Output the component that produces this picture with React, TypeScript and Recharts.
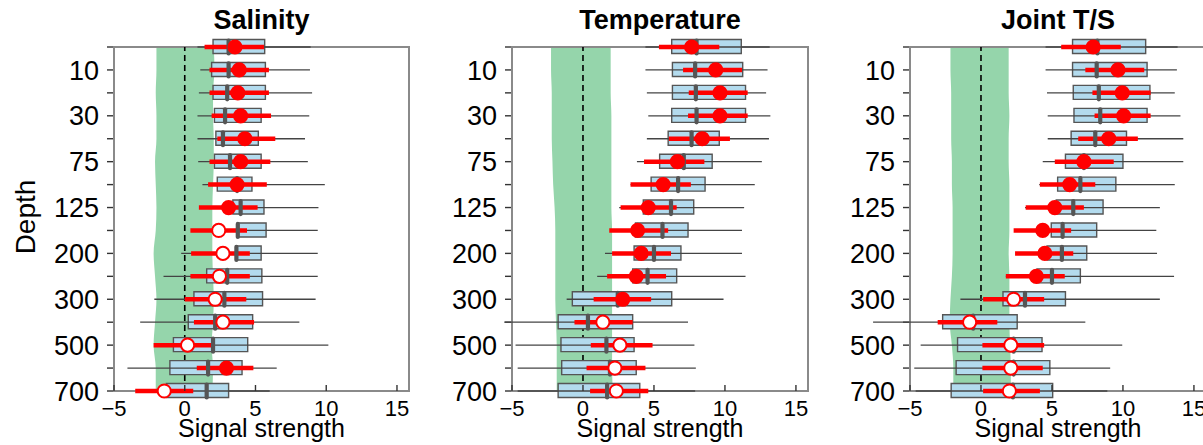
import React from 'react';
import { ComposedChart, Bar, Scatter, Area, XAxis, YAxis, ReferenceLine, ReferenceArea, ErrorBar } from 'recharts';

// ---- categories ----
const depths = [5, 10, 20, 30, 50, 75, 100, 125, 150, 200, 250, 300, 400, 500, 600, 700];
const labelledDepths = [10, 30, 75, 125, 200, 300, 500, 700];
const xTicks = [-5, 0, 5, 10, 15];

// ---- Salinity ----
const salWLo = [0.9, 1.1, 1.0, 0.9, 0.9, 0.95, 1.25, 1.2, 1.0, -0.25, -1.5, -2.15, -3.15, -2.0, -4.05, -3.0];
const salQ1 = [2.0, 1.9, 2.0, 2.1, 2.2, 2.1, 2.3, 3.4, 3.75, 3.6, 1.55, 0.65, 0.25, -0.8, -1.05, -1.3];
const salMed = [3.1, 3.1, 3.0, 2.85, 2.7, 3.2, 3.7, 3.95, 3.75, 3.65, 3.0, 2.8, 2.15, 2.0, 1.65, 1.55];
const salQ3 = [5.65, 5.7, 5.7, 5.4, 5.2, 5.4, 4.75, 5.6, 5.75, 5.4, 5.45, 5.5, 4.8, 4.45, 4.05, 3.1];
const salWHi = [8.9, 8.85, 9.0, 8.8, 8.5, 8.7, 9.9, 9.45, 9.4, 9.4, 9.4, 9.25, 8.1, 10.15, 6.5, 6.0];
const salEst = [3.55, 3.85, 3.75, 3.95, 4.25, 3.95, 3.7, 3.1, 2.4, 2.7, 2.45, 2.15, 2.7, 0.2, 2.95, -1.45];
const salLo = [1.4, 1.75, 1.75, 1.9, 2.3, 1.75, 1.65, 1.0, 0.4, 0.45, 0.4, 0.0, 0.65, -2.2, 0.85, -3.5];
const salHi = [5.6, 5.95, 5.95, 6.1, 6.4, 6.05, 5.8, 5.15, 4.4, 4.6, 4.6, 4.35, 4.9, 2.1, 4.85, 0.6];
const salSig = [1, 1, 1, 1, 1, 1, 1, 1, 0, 0, 0, 0, 0, 0, 1, 0];
const salNoiseLo = [-2.0, -2.0, -2.05, -2.0, -2.0, -2.1, -2.05, -2.0, -2.05, -2.2, -2.1, -2.0, -2.1, -2.2, -2.05, -2.05];
const salNoiseHi = [2.05, 2.1, 2.0, 2.0, 2.05, 2.05, 2.0, 1.95, 1.95, 1.95, 2.0, 2.05, 2.0, 1.9, 2.0, 1.95];

// ---- Temperature ----
const temWLo = [4.4, 4.4, 4.5, 4.6, 4.5, 3.8, 3.35, 2.55, 2.0, 1.55, 1.0, -1.15, -5.55, -4.75, -4.6, -4.6];
const temQ1 = [6.25, 6.3, 6.3, 6.25, 6.0, 5.4, 4.8, 4.25, 3.7, 3.6, 3.5, -0.75, -1.75, -1.55, -1.5, -1.75];
const temMed = [8.0, 7.9, 7.95, 8.0, 7.65, 7.1, 6.7, 6.2, 5.6, 5.0, 4.55, 2.45, 0.35, 1.65, 1.9, 1.7];
const temQ3 = [11.15, 11.25, 11.45, 11.45, 9.6, 9.1, 8.6, 7.8, 7.4, 6.9, 6.6, 6.25, 3.5, 3.6, 3.75, 4.0];
const temWHi = [13.15, 13.0, 12.9, 13.2, 13.1, 12.6, 12.1, 11.35, 11.2, 11.2, 11.45, 9.9, 7.4, 7.85, 7.95, 7.9];
const temEst = [7.65, 9.35, 9.65, 9.65, 8.4, 6.65, 5.65, 4.6, 3.85, 4.1, 3.75, 2.8, 1.4, 2.6, 2.25, 2.35];
const temLo = [5.35, 7.05, 7.45, 7.4, 6.05, 4.3, 3.35, 2.65, 1.85, 2.05, 1.7, 0.75, -0.6, 0.55, 0.25, 0.5];
const temHi = [9.6, 11.2, 11.6, 11.6, 10.35, 8.55, 7.6, 6.6, 6.0, 6.2, 5.85, 4.8, 3.5, 4.9, 4.4, 4.6];
const temSig = [1, 1, 1, 1, 1, 1, 1, 1, 1, 1, 1, 1, 0, 0, 0, 0];
const temNoiseLo = [-2.25, -2.25, -2.2, -2.2, -2.2, -2.15, -2.1, -2.0, -1.95, -1.95, -1.95, -1.95, -1.9, -1.85, -1.85, -1.85];
const temNoiseHi = [1.95, 1.95, 1.95, 2.0, 2.0, 2.0, 2.0, 2.0, 2.05, 2.05, 2.05, 2.05, 2.05, 2.05, 2.05, 2.1];

// ---- Joint T/S ----
const jntWLo = [4.55, 4.55, 4.65, 4.7, 4.7, 4.35, 4.1, 3.1, 2.6, 2.6, 1.75, -1.45, -7.6, -4.25, -4.7, -4.6];
const jntQ1 = [6.45, 6.45, 6.5, 6.55, 6.35, 5.95, 5.4, 5.3, 4.95, 4.65, 3.95, 1.55, -2.7, -1.65, -1.75, -2.1];
const jntMed = [8.2, 8.15, 8.3, 8.4, 8.05, 7.25, 7.0, 6.5, 5.75, 5.7, 5.0, 3.1, -0.55, 2.3, 2.3, 2.25];
const jntQ3 = [11.6, 11.7, 11.9, 11.7, 10.25, 10.0, 9.5, 8.6, 8.15, 7.45, 7.0, 5.95, 2.55, 4.3, 4.85, 5.05];
const jntWHi = [13.85, 13.8, 13.65, 14.05, 14.25, 14.25, 13.65, 12.6, 12.35, 12.4, 13.6, 12.6, 7.35, 9.95, 9.1, 8.9];
const jntEst = [7.9, 9.65, 9.95, 10.05, 9.0, 7.25, 6.25, 5.2, 4.35, 4.5, 3.9, 2.3, -0.8, 2.1, 2.1, 2.0];
const jntLo = [5.65, 7.35, 7.85, 8.0, 6.85, 5.2, 4.15, 3.15, 2.3, 2.4, 1.75, 0.15, -3.05, 0.1, 0.1, 0.15];
const jntHi = [9.85, 11.5, 11.95, 11.95, 11.05, 9.35, 8.05, 7.25, 6.35, 6.5, 5.9, 4.45, 1.15, 4.45, 4.35, 4.15];
const jntSig = [1, 1, 1, 1, 1, 1, 1, 1, 1, 1, 1, 0, 0, 0, 0, 0];
const jntNoiseLo = [-2.15, -2.15, -2.1, -2.1, -2.1, -2.05, -2.05, -2.0, -2.0, -2.0, -2.05, -2.15, -2.2, -2.05, -1.95, -1.95];
const jntNoiseHi = [1.95, 1.95, 1.95, 2.0, 1.95, 1.95, 2.0, 2.0, 2.0, 1.95, 2.0, 2.0, 2.0, 2.05, 2.1, 2.1];

const FONT = '"Liberation Sans", Arial, Helvetica, sans-serif';
const X_DOMAIN: [number, number] = [-5, 15.85];
const Y_AXIS_W = 114;
const FRAME = '#8a8a8a';

type Row = {
  row: number; depth: number;
  wLo: number; q1: number; med: number; q3: number; wHi: number;
  est: number; lo: number; hi: number; sig: number; nLo: number; nHi: number;
};

function buildRows(wLo: number[], q1: number[], med: number[], q3: number[], wHi: number[],
  est: number[], lo: number[], hi: number[], sig: number[], nLo: number[], nHi: number[]): Row[] {
  return depths.map((d, i) => ({
    row: i + 1, depth: d,
    wLo: wLo[i], q1: q1[i], med: med[i], q3: q3[i], wHi: wHi[i],
    est: est[i], lo: lo[i], hi: hi[i], sig: sig[i], nLo: nLo[i], nHi: nHi[i],
  }));
}

const salRows = buildRows(salWLo, salQ1, salMed, salQ3, salWHi, salEst, salLo, salHi, salSig, salNoiseLo, salNoiseHi);
const temRows = buildRows(temWLo, temQ1, temMed, temQ3, temWHi, temEst, temLo, temHi, temSig, temNoiseLo, temNoiseHi);
const jntRows = buildRows(jntWLo, jntQ1, jntMed, jntQ3, jntWHi, jntEst, jntLo, jntHi, jntSig, jntNoiseLo, jntNoiseHi);

const rowTicks = depths.map((_, i) => i + 1);

const fmtX = (v: number) => (v < 0 ? '\u2212' + Math.abs(v) : String(v));

const XTick = (props: any) => {
  const { x, y, payload } = props;
  return (
    <g>
      <line x1={x} x2={x} y1={y - 9} y2={y - 15} stroke="#333" strokeWidth={1.4} />
      <text x={x} y={y} dy="0.71em" textAnchor="middle" fontSize={22} fontFamily={FONT} fill="#000">
        {fmtX(payload.value)}
      </text>
    </g>
  );
};

const YTick = (props: any) => {
  const { x, y, payload } = props;
  const d = depths[payload.value - 1];
  const txt = labelledDepths.includes(d) ? String(d) : '';
  return (
    <text x={x} y={y} dy="0.355em" textAnchor="end" fontSize={27} fontFamily={FONT} fill="#000">
      {txt}
    </text>
  );
};

const pick = (p: any): Row => (p && p.payload ? p.payload : p);

function Panel({ title, rows, left, plotWidth, showDepth }: { title: string; rows: Row[]; left: number; plotWidth: number; showDepth: boolean }) {
  const width = Y_AXIS_W + plotWidth + 2;
  return (
    <div style={{ position: 'absolute', left, top: 0 }}>
      <ComposedChart layout="vertical" width={width} height={445} data={rows}
        margin={{ top: 47, right: 2, bottom: 0, left: 0 }}>
        <XAxis type="number" domain={X_DOMAIN} allowDataOverflow ticks={xTicks} interval={0}
          tickSize={0} tickMargin={9} tickLine={false} tick={<XTick />} height={54}
          axisLine={{ stroke: FRAME, strokeWidth: 2 }} zIndex={120}
          label={(p: any) => {
            const vb = p.viewBox || {};
            const cx = vb.x + vb.width / 2;
            return (
              <g>
                <text x={cx} y={vb.y + 46} textAnchor="middle" fontSize={25} fontFamily={FONT} fill="#000">
                  Signal strength
                </text>
                <text x={cx} y={29} textAnchor="middle" fontSize={27} fontWeight="bold" fontFamily={FONT} fill="#000">
                  {title}
                </text>
              </g>
            );
          }} />
        <YAxis type="number" dataKey="row" domain={[1, 16]} ticks={rowTicks} interval={0}
          tickSize={7} tickMargin={8} tickLine={{ stroke: '#333', strokeWidth: 1.4 }} tick={<YTick />}
          width={Y_AXIS_W} axisLine={{ stroke: FRAME, strokeWidth: 2 }} zIndex={120}
          label={showDepth ? (p: any) => {
            const vb = p.viewBox || {};
            const cy = vb.y + vb.height / 2 - 2;
            return (
              <text x={35} y={cy} transform={`rotate(-90, 35, ${cy})`} textAnchor="middle" fontSize={28} fontFamily={FONT} fill="#000">
                Depth
              </text>
            );
          } : undefined} />

        <Area dataKey={(d: Row) => [d.nLo, d.nHi]} type="monotone" fill="#95d5ab" fillOpacity={1}
          stroke="none" isAnimationActive={false} zIndex={100} activeDot={false} dot={false} />
        <ReferenceArea x1={X_DOMAIN[0]} x2={X_DOMAIN[1]} y1={1} y2={16} fill="none" fillOpacity={0}
          stroke={FRAME} strokeWidth={2} zIndex={120} />
        <ReferenceLine x={0} stroke="#000" strokeWidth={1.6} strokeDasharray="6 4" zIndex={150} />

        <Scatter className="whisk" dataKey="med" shape={() => <g />} isAnimationActive={false} zIndex={250}>
          <ErrorBar direction="x" width={0} stroke="#444" strokeWidth={1.3}
            dataKey={(p: any) => { const d = pick(p); return [d.med - d.wLo, d.wHi - d.med]; }} />
        </Scatter>
        <Bar dataKey={(d: Row) => [d.q1, d.q3]} barSize={14} fill="#b3dbee" stroke="#555" strokeWidth={1.4}
          isAnimationActive={false} zIndex={300} />
        <Scatter dataKey="med" isAnimationActive={false} zIndex={600}
          shape={(p: any) => (
            <line x1={p.cx} x2={p.cx} y1={p.cy - 6.5} y2={p.cy + 6.5} stroke="#555" strokeWidth={4.2} strokeLinecap="round" />
          )} />
        <Scatter dataKey="est" shape={() => <g />} isAnimationActive={false} zIndex={610}>
          <ErrorBar direction="x" width={0} stroke="#ff0000" strokeWidth={4.5}
            dataKey={(p: any) => { const d = pick(p); return [d.est - d.lo, d.hi - d.est]; }} />
        </Scatter>
        <Scatter dataKey="est" isAnimationActive={false} zIndex={620}
          shape={(p: any) => {
            const d = pick(p);
            return <circle cx={p.cx} cy={p.cy} r={6.6} fill={d.sig ? '#ff0000' : '#ffffff'} stroke="#ff0000" strokeWidth={2} />;
          }} />
      </ComposedChart>
    </div>
  );
}

export default function App() {
  return (
    <div style={{ position: 'fixed', left: 0, top: 0, width: 1203, height: 445, overflow: 'hidden', background: '#fff', fontFamily: FONT }}>
      <style>{'.whisk, .whisk * { clip-path: none !important; }'}</style>
      <Panel title="Salinity" rows={salRows} left={0} plotWidth={295} showDepth={true} />
      <Panel title="Temperature" rows={temRows} left={398} plotWidth={296} showDepth={false} />
      <Panel title="Joint T/S" rows={jntRows} left={796} plotWidth={296} showDepth={false} />
    </div>
  );
}
